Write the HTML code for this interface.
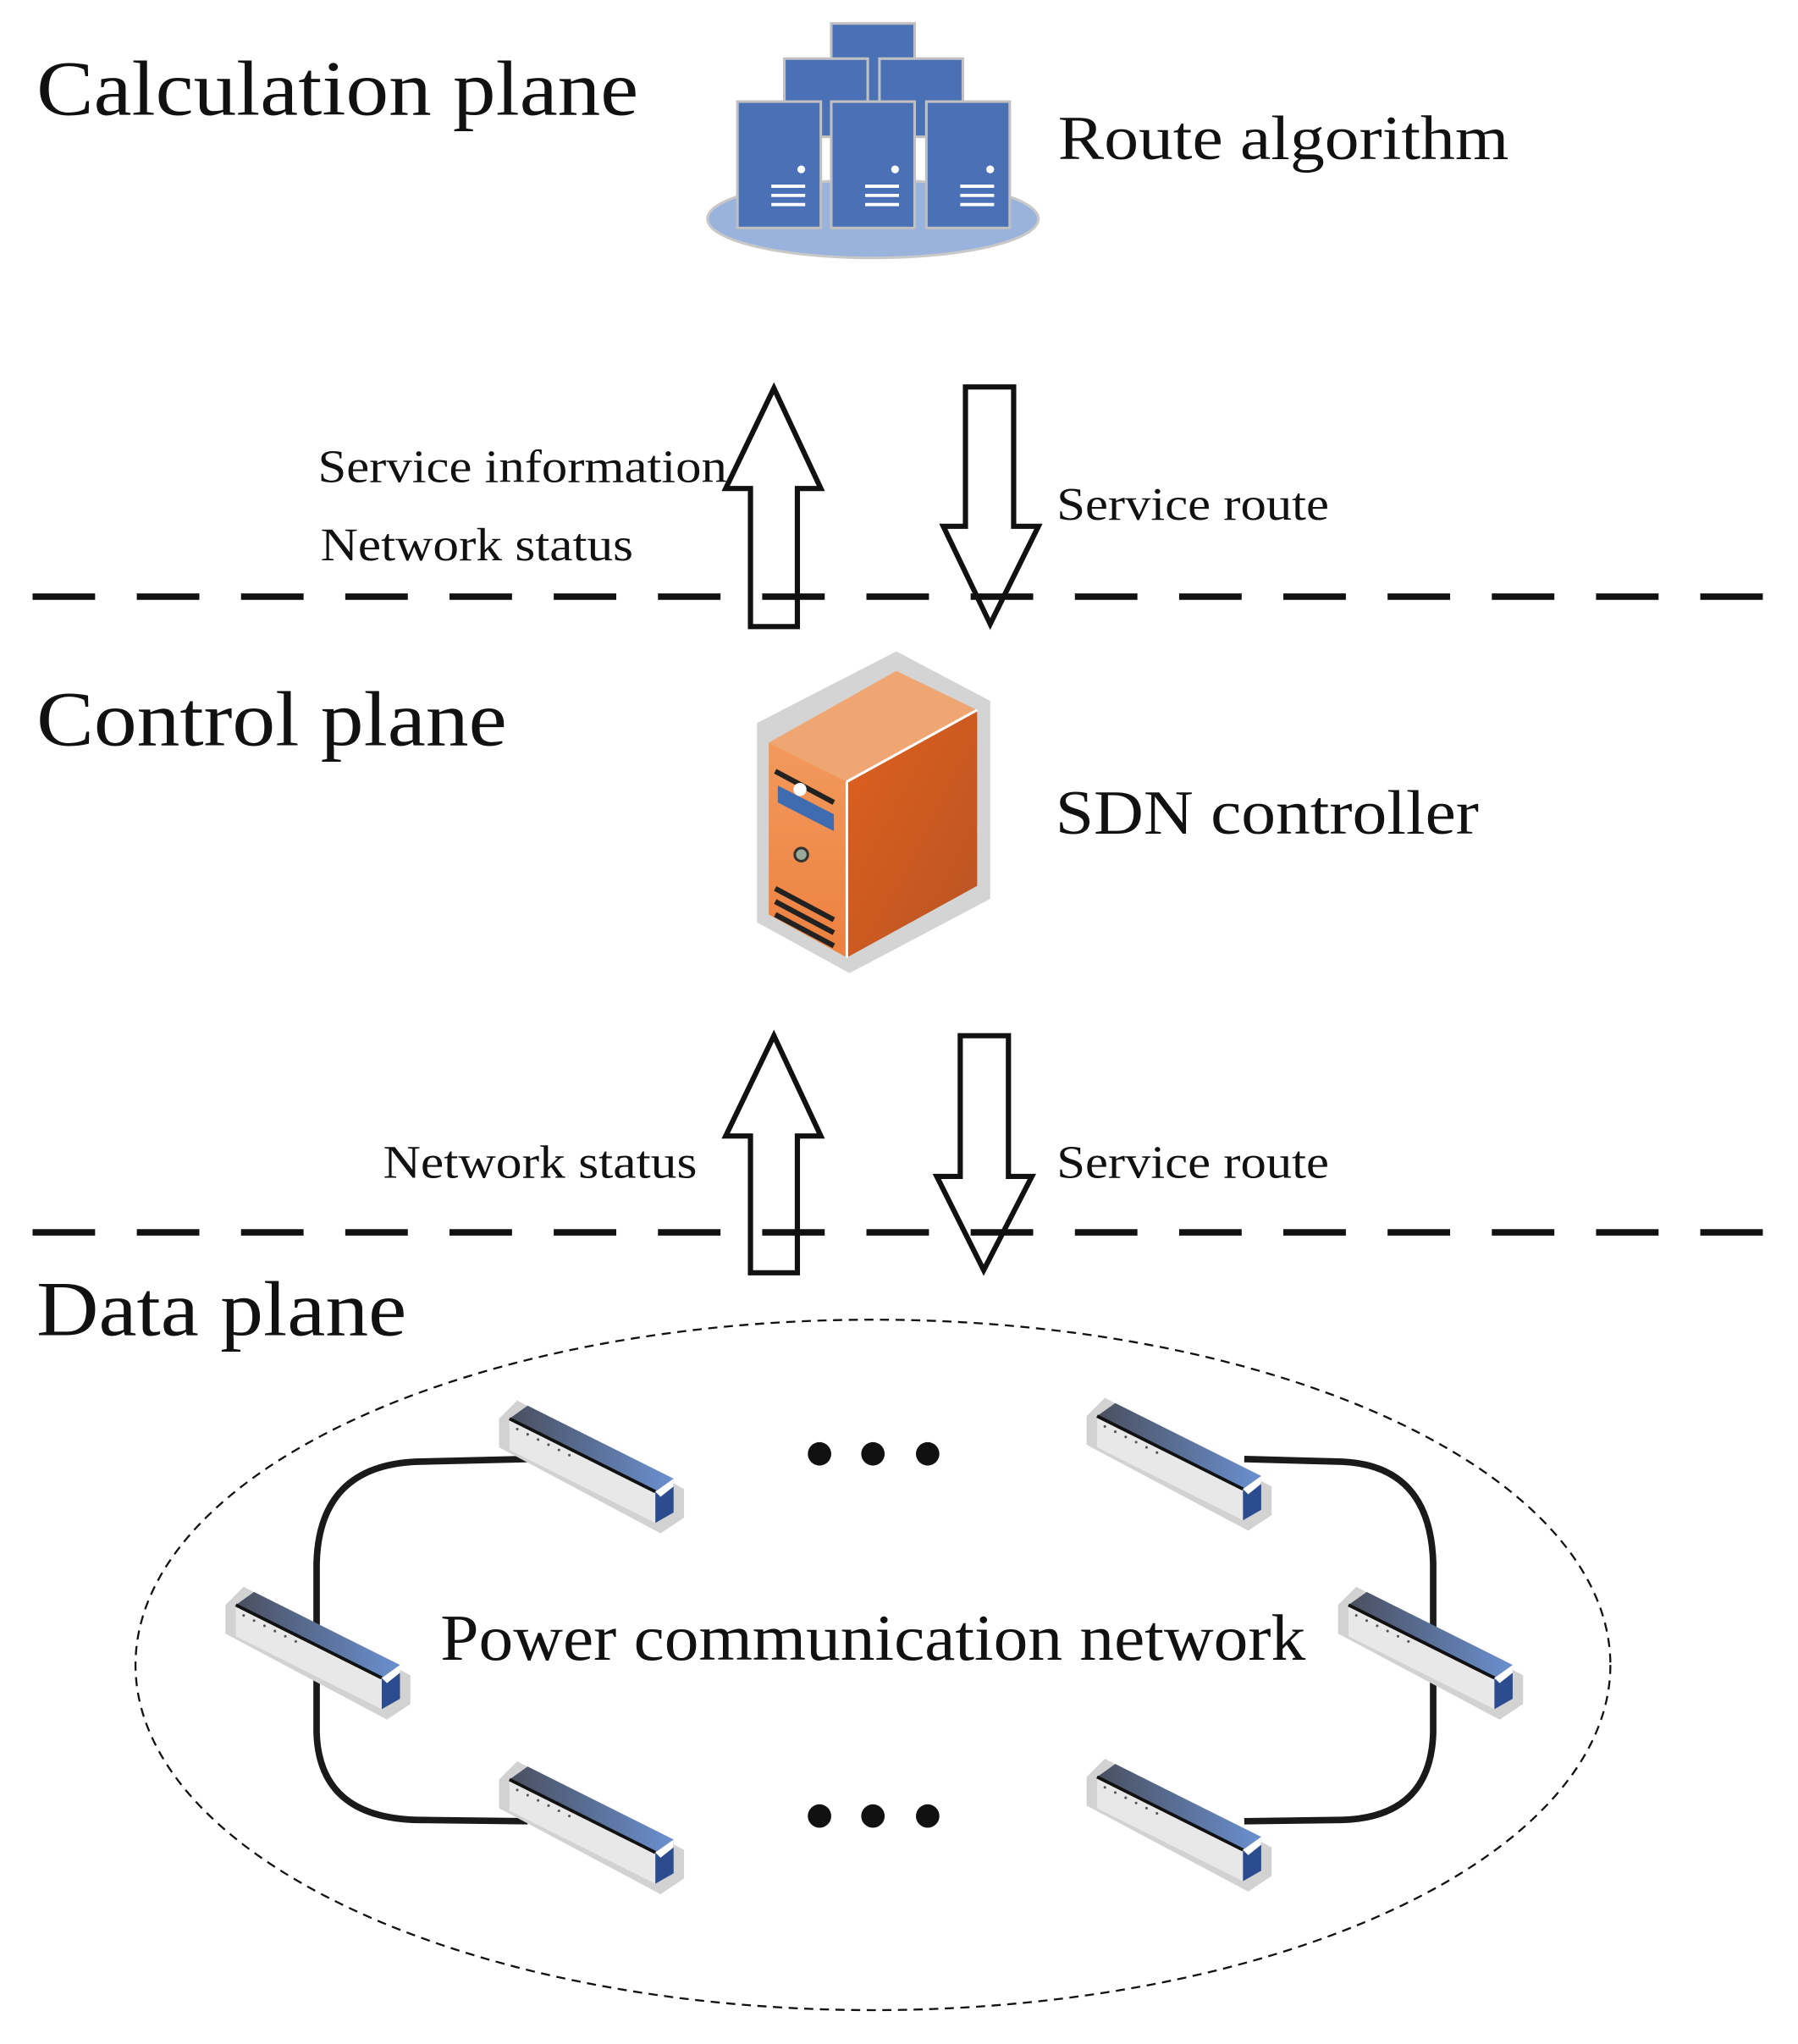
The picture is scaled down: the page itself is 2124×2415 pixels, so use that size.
<!DOCTYPE html>
<html><head><meta charset="utf-8"><style>html,body{margin:0;padding:0;background:#fff}svg{display:block}</style></head>
<body>
<svg width="2124" height="2415" viewBox="0 0 1380 1569" preserveAspectRatio="none" xmlns="http://www.w3.org/2000/svg">
<defs>
<linearGradient id="sw" x1="0" y1="0" x2="1" y2="0"><stop offset="0" stop-color="#4a4f5e"/><stop offset="1" stop-color="#6a90d0"/></linearGradient>
<linearGradient id="orf" x1="0" y1="0" x2="1" y2="1"><stop offset="0" stop-color="#e0601e"/><stop offset="1" stop-color="#b85424"/></linearGradient>
<linearGradient id="orl" x1="0" y1="0" x2="0" y2="1"><stop offset="0" stop-color="#f29a5c"/><stop offset="1" stop-color="#ec8040"/></linearGradient>
<g id="switch">
<polygon points="0,14 14,0 142,68 142,90 124,102 0,36" fill="#d2d2d2"/>
<polygon points="8,14 22,4 134,60 120,70" fill="url(#sw)"/>
<polygon points="8,14 120,70 120,94 8,38" fill="#e8e8e8"/>
<line x1="8" y1="14" x2="120" y2="70" stroke="#111" stroke-width="2.5"/>
<polygon points="120,70 134,60 134,86 120,94" fill="#2c4c90"/>
<polygon points="120,70 134,60 134,66 124,74" fill="#fff"/>
<g fill="#555"><circle cx="14" cy="22" r="1"/><circle cx="22" cy="26" r="1"/><circle cx="30" cy="30" r="1"/><circle cx="38" cy="34" r="1"/><circle cx="46" cy="38" r="1"/><circle cx="54" cy="42" r="1"/></g>
</g>
</defs>
<g font-family="'Liberation Serif', serif" fill="#111" lengthAdjust="spacingAndGlyphs">
<text x="28" y="88" font-size="60" textLength="462" lengthAdjust="spacingAndGlyphs">Calculation plane</text>
<text x="812" y="122" font-size="48" textLength="346" lengthAdjust="spacingAndGlyphs">Route algorithm</text>
<text x="244" y="370" font-size="36" textLength="314" lengthAdjust="spacingAndGlyphs">Service information</text>
<text x="246" y="430" font-size="36" textLength="240" lengthAdjust="spacingAndGlyphs">Network status</text>
<text x="811" y="399" font-size="36" textLength="209" lengthAdjust="spacingAndGlyphs">Service route</text>
<text x="28" y="572" font-size="60" textLength="361" lengthAdjust="spacingAndGlyphs">Control plane</text>
<text x="810" y="640" font-size="48" textLength="325" lengthAdjust="spacingAndGlyphs">SDN controller</text>
<text x="294" y="904" font-size="36" textLength="241" lengthAdjust="spacingAndGlyphs">Network status</text>
<text x="811" y="904" font-size="36" textLength="209" lengthAdjust="spacingAndGlyphs">Service route</text>
<text x="28" y="1025" font-size="60" textLength="284" lengthAdjust="spacingAndGlyphs">Data plane</text>
<text x="338" y="1274" font-size="50" textLength="664" lengthAdjust="spacingAndGlyphs">Power communication network</text>
</g>
<ellipse cx="670" cy="168" rx="127" ry="30" fill="#9ab3dc" stroke="#c8c8c8" stroke-width="2"/>
<g fill="#4a70b6" stroke="#c0c0c0" stroke-width="2">
<rect x="638" y="18" width="64" height="60"/>
<rect x="602" y="45" width="64" height="60"/>
<rect x="675" y="45" width="64" height="60"/>
<rect x="566" y="78" width="64" height="97"/>
<rect x="638" y="78" width="64" height="97"/>
<rect x="711" y="78" width="64" height="97"/>
</g>
<g stroke="#fff" stroke-width="2.5" fill="#fff">
<circle cx="615" cy="130" r="3" stroke="none"/><line x1="592" y1="143" x2="618" y2="143"/><line x1="592" y1="150" x2="618" y2="150"/><line x1="592" y1="157" x2="618" y2="157"/>
<circle cx="687" cy="130" r="3" stroke="none"/><line x1="664" y1="143" x2="690" y2="143"/><line x1="664" y1="150" x2="690" y2="150"/><line x1="664" y1="157" x2="690" y2="157"/>
<circle cx="760" cy="130" r="3" stroke="none"/><line x1="737" y1="143" x2="763" y2="143"/><line x1="737" y1="150" x2="763" y2="150"/><line x1="737" y1="157" x2="763" y2="157"/>
</g>
<g stroke="#111" stroke-width="5" stroke-dasharray="48,32">
<line x1="25" y1="458" x2="1358" y2="458"/>
<line x1="25" y1="946" x2="1358" y2="946"/>
</g>
<g fill="none" stroke="#111" stroke-width="4" stroke-linejoin="miter">
<polygon points="576,481 612,481 612,375 630,375 594,298 557,375 576,375"/>
<polygon points="741,297 778,297 778,404 797,404 760,479 724,404 741,404"/>
<polygon points="576,977 612,977 612,872 630,872 594,795 557,872 576,872"/>
<polygon points="737,795 774,795 774,903 792,903 755,975 719,903 737,903"/>
</g>
<polygon points="581,555 688,500 760,538 760,690 652,747 581,708" fill="#d4d4d4"/>
<polygon points="590,570 688,515 750,545 650,600" fill="#f0a672"/>
<polygon points="590,570 650,600 650,735 590,702" fill="url(#orl)"/>
<polygon points="650,600 750,545 750,680 650,735" fill="url(#orf)"/>
<line x1="650" y1="600" x2="650" y2="735" stroke="#fff" stroke-width="2"/>
<line x1="650" y1="600" x2="750" y2="545" stroke="#fff" stroke-width="2"/>
<g stroke="#222" stroke-width="4" fill="none">
<line x1="595" y1="592" x2="640" y2="616"/>
<line x1="595" y1="682" x2="640" y2="706"/><line x1="595" y1="692" x2="640" y2="716"/><line x1="595" y1="702" x2="640" y2="726"/>
</g>
<polygon points="597,603 640,625 640,638 597,616" fill="#3f6bb0"/>
<circle cx="614" cy="606" r="5" fill="#fff"/>
<circle cx="615" cy="656" r="5" fill="#9aaa9a" stroke="#333" stroke-width="2"/>
<ellipse cx="670" cy="1278" rx="566" ry="265" fill="none" stroke="#111" stroke-width="1.5" stroke-dasharray="7,5"/>
<g fill="none" stroke="#1a1a1a" stroke-width="5">
<path d="M405,1120 L320,1122 Q245,1125 243,1200 L243,1330 Q245,1395 320,1397 L405,1398"/>
<path d="M955,1120 L1030,1122 Q1098,1125 1100,1200 L1100,1330 Q1098,1395 1030,1397 L955,1398"/>
</g>
<use href="#switch" x="383" y="1075"/>
<use href="#switch" x="834" y="1073"/>
<use href="#switch" x="173" y="1218"/>
<use href="#switch" x="1027" y="1218"/>
<use href="#switch" x="383" y="1352"/>
<use href="#switch" x="834" y="1350"/>
<g fill="#111">
<circle cx="629" cy="1116" r="9"/><circle cx="670" cy="1116" r="9"/><circle cx="712" cy="1116" r="9"/>
<circle cx="629" cy="1394" r="9"/><circle cx="670" cy="1394" r="9"/><circle cx="712" cy="1394" r="9"/>
</g>
</svg>
</body></html>
